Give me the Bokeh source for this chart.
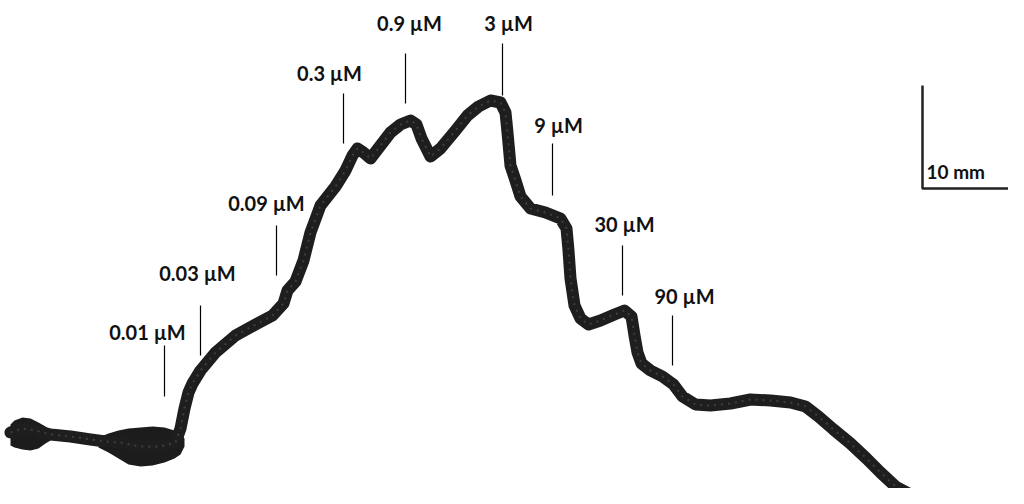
from bokeh.plotting import figure
from bokeh.models import Range1d
from bokeh.core.properties import value
from bokeh.embed import file_html
from bokeh.resources import INLINE

# Trace read from the recording (x: time units, y: pen position, downward = larger)
trace_x = [10, 22, 35, 50, 70, 90, 105, 120, 140, 160, 175, 180, 184, 188, 192, 200, 215, 235, 255,
           272, 283, 287, 295, 303, 310, 320, 335, 345, 352, 357, 363, 370, 380, 390, 400, 410, 416,
           421, 430, 440, 455, 467, 478, 490, 500, 505, 507, 510, 515, 520, 530, 545, 560, 566,
           568, 570, 574, 580, 588, 600, 614, 624, 631, 634, 637, 641, 650, 662, 673, 682, 695,
           710, 730, 750, 770, 790, 805, 818, 833, 850, 866, 880, 895, 910, 922, 932]
trace_y = [432, 428, 430, 434, 436, 439, 441, 442, 446, 446, 442, 428, 408, 392, 383, 370, 352, 335, 324,
           315, 303, 290, 281, 260, 232, 205, 186, 170, 155, 148, 152, 158, 145, 132, 124, 120, 124,
           138, 156, 148, 130, 115, 106, 100, 102, 112, 132, 165, 180, 196, 208, 212, 218, 228,
           250, 278, 305, 318, 324, 320, 314, 310, 316, 335, 352, 363, 370, 376, 384, 396, 404,
           405, 403, 399, 400, 402, 406, 416, 429, 443, 458, 472, 486, 494, 497, 498]

# Noisy, wider portions of the trace (upper / lower edges)
band1_x = [10, 14, 22, 30, 38, 45, 50]
band1_top = [424, 420, 417, 418, 422, 426, 430]
band1_bot = [445, 447, 449, 450, 448, 443, 440]
band2_x = [98, 108, 118, 128, 140, 152, 164, 174, 180, 184]
band2_top = [437, 433, 430, 428, 427, 426, 427, 430, 432, 438]
band2_bot = [447, 452, 458, 464, 466, 465, 462, 458, 454, 446]

# Concentration markers
labels = ["0.01 µM", "0.03 µM", "0.09 µM", "0.3 µM", "0.9 µM", "3 µM", "9 µM", "30 µM", "90 µM"]
label_x = [147, 197, 266, 329, 409, 508, 558, 624, 684]
label_y = [331, 272, 202, 72, 22, 22, 124, 223, 295]
tick_x = [164, 200, 276, 343, 405, 502, 552, 622, 672]
tick_top = [345, 305, 225, 93, 53, 43, 143, 245, 315]
tick_bot = [396, 355, 275, 143, 103, 95, 195, 295, 365]

# Scale bar (10 mm)
bar_x = [922, 922, 1024]
bar_y = [85, 188, 188]
bar_label = ["10 mm"]

p = figure(width=1008, height=488, output_backend="svg", toolbar_location=None,
           x_range=Range1d(0, 1008), y_range=Range1d(488, 0), min_border=0)
p.axis.visible = False
p.grid.visible = False
p.outline_line_color = None
p.background_fill_color = "white"

p.varea(x=band1_x, y1=band1_top, y2=band1_bot, fill_color="#1c1c1c")
p.varea(x=band2_x, y1=band2_top, y2=band2_bot, fill_color="#1c1c1c")
p.line(trace_x, trace_y, line_width=12, line_color="#1e1e1e", line_join="round", line_cap="round")
p.line(trace_x, trace_y, line_width=2, line_color="#666666", line_alpha=0.45, line_dash="2 5")

p.segment(x0=tick_x, y0=tick_top, x1=tick_x, y1=tick_bot, line_color="black", line_width=1.2)
p.text(x=label_x, y=label_y, text=labels, text_align="center", text_baseline="middle",
       text_font=value("Lato"), text_font_style="bold", text_font_size="20px", text_color="#111111")

p.line(bar_x, bar_y, line_width=2.5, line_color="#222222")
p.text(x=[926], y=[171], text=bar_label, text_align="left", text_baseline="middle",
       text_font=value("Lato"), text_font_style="bold", text_font_size="19px", text_color="#111111")

open("out.html", "w").write(file_html(p, INLINE))
